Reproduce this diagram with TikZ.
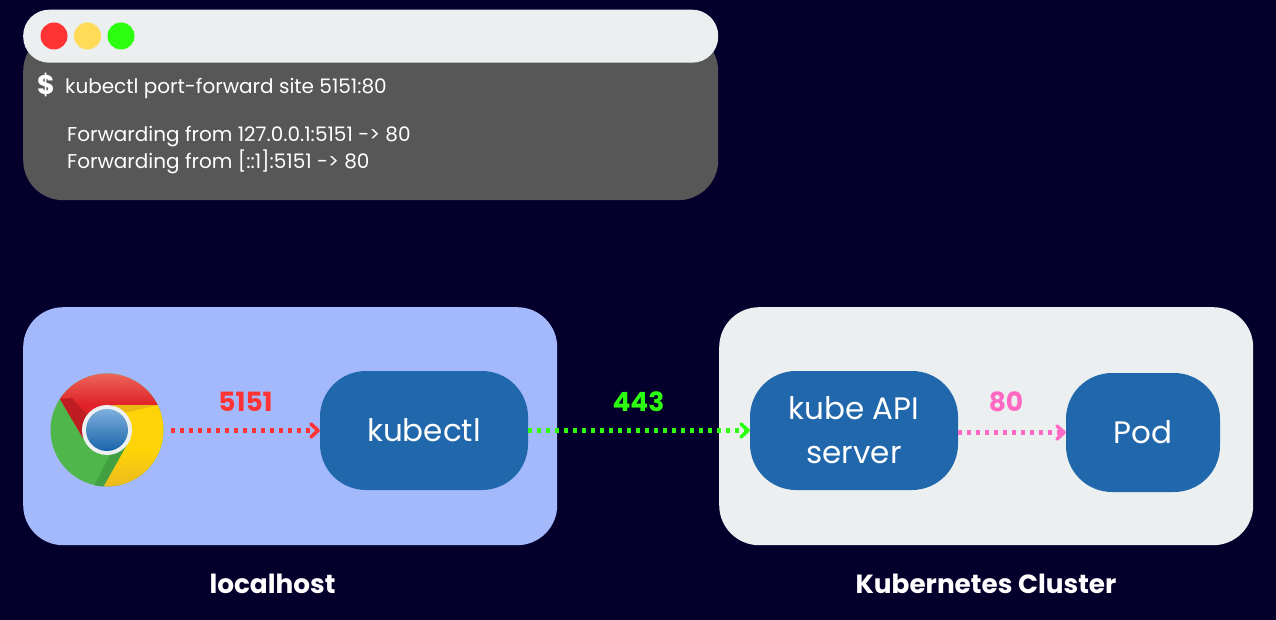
\documentclass[tikz,border=0pt]{standalone}
\usepackage{fontspec}
\setmainfont{Poppins}
\usetikzlibrary{arrows.meta}
\definecolor{bgc}{HTML}{05002B}
\definecolor{lightc}{HTML}{EBEFF0}
\definecolor{termc}{HTML}{575757}
\definecolor{hostc}{HTML}{A4B9FB}
\definecolor{nodec}{HTML}{2167AB}
\definecolor{redc}{HTML}{FF3333}
\definecolor{yellowc}{HTML}{FFDB58}
\definecolor{greenc}{HTML}{2BFF0F}
\definecolor{pinkc}{HTML}{FF69C4}
\definecolor{chgreen}{RGB}{78,182,74}
\definecolor{chgreend}{RGB}{66,160,66}
\definecolor{chredtop}{RGB}{236,104,92}
\definecolor{chred}{RGB}{224,34,40}
\definecolor{chredd}{RGB}{190,30,34}
\definecolor{chyel}{RGB}{254,212,8}
\definecolor{chyelb}{RGB}{232,180,36}
\definecolor{chyeld}{RGB}{236,184,20}
\definecolor{chbluet}{RGB}{125,175,220}
\definecolor{chblueb}{RGB}{24,100,170}
\definecolor{chring}{RGB}{238,240,242}
\tikzset{
  panel/.style={fill=#1,rounded corners=40pt,inner sep=0pt,anchor=north west},
  podbox/.style={fill=nodec,rounded corners=46pt,inner sep=0pt,text=white,align=center,font=\fontsize{31}{44}\selectfont},
  dot/.style={circle,fill=#1,minimum size=27pt,inner sep=0pt},
  flow/.style={draw=#1,line width=4.2pt,dash pattern=on 4pt off 5pt,
    -{Straight Barb[length=7pt,width=13pt,line width=3.6pt,round]}},
  portlabel/.style={text=#1,font=\fontsize{26.5}{26.5}\selectfont\bfseries},
  caption/.style={text=white,font=\fontsize{26.3}{26.3}\selectfont\bfseries},
  termtext/.style={text=white,inner sep=0pt,anchor=base west,font=\fontsize{20}{20}\selectfont}
}
\begin{document}
\begin{tikzpicture}[x=1pt,y=-1pt]
\useasboundingbox[fill=bgc] (0,0) rectangle (1276,620);
% terminal
\node[panel=termc,minimum width=695pt,minimum height=169pt] (term) at (23,31) {};
\node[panel=lightc,rounded corners=26pt,minimum width=695pt,minimum height=53pt] (bar) at (23,9.5) {};
\node[dot=redc] (d1) at (54,36) {};
\node[dot=yellowc] (d2) at (87.5,36) {};
\node[dot=greenc] (d3) at (121,36) {};
\node[text=white,inner sep=0pt,anchor=base west,font=\fontsize{27}{27}\selectfont\bfseries] (prompt) at (37,95) {\$};
\node[termtext] (cmd) at (65,94) {kubectl port-forward site 5151:80};
\node[termtext] (l1) at (67,142) {Forwarding from 127.0.0.1:5151 -> 80};
\node[termtext] (l2) at (67,169) {Forwarding from [::1]:5151 -> 80};
% panels
\node[panel=hostc,minimum width=534pt,minimum height=238pt] (host) at (23,307) {};
\node[panel=lightc,minimum width=534pt,minimum height=238pt] (cluster) at (719,307) {};
\node[caption] (hostcap) at (272.5,584) {localhost};
\node[caption] (clustercap) at (986,584) {Kubernetes Cluster};
% chrome icon
\node[circle,minimum size=112pt,inner sep=0pt] (chrome) at (107,430) {};
\begin{scope}
\clip (107,430) circle (56.5);
\fill[chgreen] (50,373) rectangle (164,488);
\fill[chgreend] (103,487) -- (127,445) -- (115,445) -- (92,490) -- cycle;
\shade[top color=chredtop,bottom color=chred,middle color=chred]
  (60,399) -- (45,372) -- (170,372) -- (170,405) -- (113,405) -- (83,438) -- cycle;
\fill[chredd] (60,399) -- (83,438) -- (92,420) -- (72,398) -- cycle;
\shade[top color=chyel,bottom color=chyelb,middle color=chyel]
  (113,405) -- (170,405) -- (170,495) -- (99,495) -- (127,445) -- cycle;
\fill[chyeld] (113,405) -- (158,405) -- (120,414) -- cycle;
\end{scope}
\fill[chring] (107,430) circle (25);
\shade[top color=chbluet,bottom color=chblueb] (107,430) circle (21);
% inner nodes
\node[podbox,minimum width=208pt,minimum height=119pt] (kubectl) at (424,430.5) {kubectl};
\node[podbox,minimum width=208pt,minimum height=119pt] (api) at (854,430.5) {kube API\\server};
\node[podbox,minimum width=154pt,minimum height=119pt] (pod) at (1143,432.5) {Pod};
% connectors
\draw[flow=redc] (chrome.east |- kubectl.west) ++(8,0) coordinate (cstart) -- (kubectl.west);
\draw[flow=greenc] (kubectl.east) -- (api.west);
\draw[flow=pinkc] (api.east |- pod.west) -- (pod.west);
\node[portlabel=redc] (p1) at (245.5,402) {5151};
\node[portlabel=greenc] (p2) at (638.5,402) {443};
\node[portlabel=pinkc] (p3) at (1006,402) {80};
\end{tikzpicture}
\end{document}
